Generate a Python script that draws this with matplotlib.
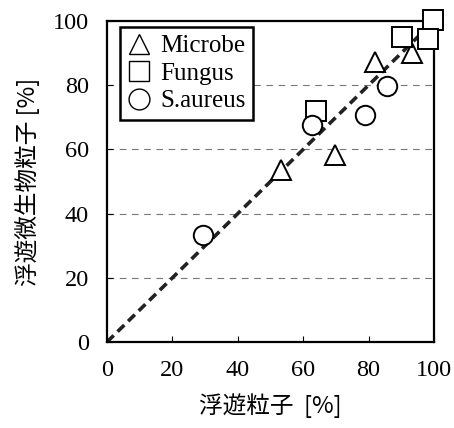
import matplotlib.pyplot as plt

# measured points, x = airborne particles [%], y = airborne microbial particles [%]
microbe_x = [53.2, 69.7, 82.0, 93.3]
microbe_y = [53.6, 58.3, 87.2, 90.0]
fungus_x = [63.9, 90.2, 99.7, 98.2]
fungus_y = [72.0, 95.0, 100.3, 94.4]
saureus_x = [29.4, 62.7, 78.9, 85.6]
saureus_y = [33.3, 67.6, 70.7, 79.7]

line_x = [0, 100]
line_y = [0, 100]
ticks = [0, 20, 40, 60, 80, 100]

serif = ['Liberation Serif', 'DejaVu Serif']
jp = ['Noto Sans CJK JP', 'DejaVu Sans']

fig = plt.figure(figsize=(4.54, 4.28), dpi=100)
ax = fig.add_axes([0.2357, 0.201, 0.7203, 0.750])

for y in ticks[1:-1]:
	ax.axhline(y, color='#777777', lw=0.8, ls=(0, (6, 5)), zorder=1)

ax.plot(line_x, line_y, color='#222222', lw=2.6, ls=(0, (2.6, 1.5)), zorder=2)

mk = dict(ls='none', ms=14, mfc='white', mec='black', mew=1.4, zorder=3, clip_on=False)
ax.plot(microbe_x, microbe_y, marker='^', label='Microbe', **mk)
ax.plot(fungus_x, fungus_y, marker='s', label='Fungus', **mk)
ax.plot(saureus_x, saureus_y, marker='o', label='S.aureus', **mk)

ax.set_xlim(0, 100)
ax.set_ylim(0, 100)
ax.set_xticks(ticks)
ax.set_yticks(ticks)
ax.tick_params(direction='in', length=4, width=0.8, pad=13)
for lab in ax.get_xticklabels() + ax.get_yticklabels():
	lab.set_family(serif)
	lab.set_fontsize(17.5)
for s in ax.spines.values():
	s.set_linewidth(1.6)

ax.set_xlabel('浮遊粒子  [%]', family=jp, fontsize=17, labelpad=9)
ax.set_ylabel('浮遊微生物粒子 [%]', family=jp, fontsize=17, labelpad=9)

leg = ax.legend(loc='upper left', bbox_to_anchor=(0.04, 0.98), prop={'family': serif, 'size': 18},
	fancybox=False, framealpha=1, edgecolor='black', handlelength=0.9, handletextpad=0.4,
	borderpad=0.3, labelspacing=0.2, borderaxespad=0)
leg.get_frame().set_linewidth(1.8)
for h in leg.legend_handles:
	h.set_markersize(15)
	h.set_markeredgewidth(1.0)

fig.savefig('out.png', dpi=100)
